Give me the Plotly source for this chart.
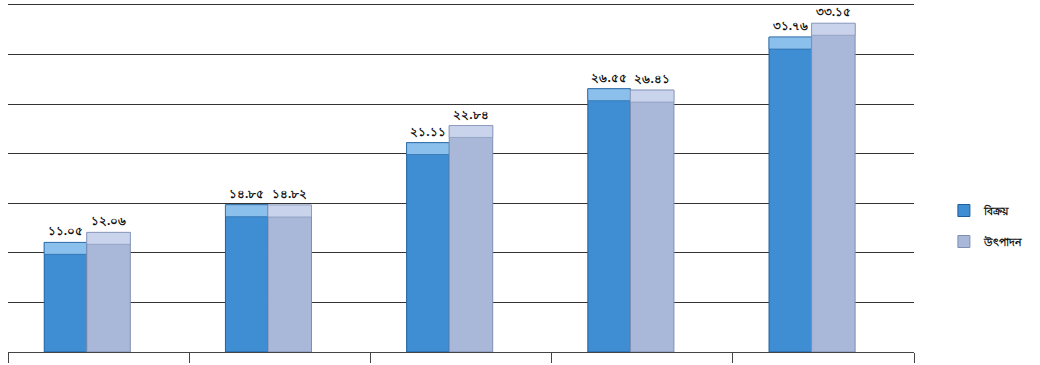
import plotly.graph_objects as go

# Five periods, two series (values shown on the bars in Bengali numerals)
categories = ["c1", "c2", "c3", "c4", "c5"]
series_names = ["বিক্রয়", "উৎপাদন"]
sales = [11.05, 14.85, 21.11, 26.55, 31.76]
production = [12.06, 14.82, 22.84, 26.41, 33.15]

BN_DIGITS = str.maketrans("0123456789", "০১২৩৪৫৬৭৮৯")


def bn(v):
    return f"{v:.2f}".translate(BN_DIGITS)


CAP = 1.2  # height (data units) of the lighter top face of each column

styles = [
    dict(front="#3f8dd2", cap="#8cc0ec", edge="#1f5f9e", offset=-0.30, width=0.235),
    dict(front="#a9b8d9", cap="#c9d4ec", edge="#7f8fb3", offset=-0.065, width=0.24),
]

fig = go.Figure()
for name, vals, st in zip(series_names, [sales, production], styles):
    fig.add_trace(go.Bar(
        x=categories, y=vals, name=name,
        offset=st["offset"], width=st["width"],
        marker=dict(color=st["front"], line=dict(color=st["edge"], width=1)),
        legendgroup=name,
        hoverinfo="skip",
    ))
    fig.add_trace(go.Bar(
        x=categories, y=[CAP] * len(vals), base=[v - CAP for v in vals],
        offset=st["offset"], width=st["width"],
        marker=dict(color=st["cap"], line=dict(color=st["edge"], width=0.6)),
        text=[f"<b>{bn(v)}</b>" for v in vals], textposition="outside",
        textfont=dict(family="Noto Sans, DejaVu Sans, sans-serif", size=12, color="#111111"),
        cliponaxis=False,
        showlegend=False, legendgroup=name, hoverinfo="skip",
    ))

fig.update_layout(
    barmode="overlay",
    width=1040, height=365,
    margin=dict(l=8, r=126, t=2, b=13),
    paper_bgcolor="white", plot_bgcolor="white",
    showlegend=True,
    legend=dict(
        x=1.033, y=0.36, xanchor="left", yanchor="middle",
        font=dict(family="Noto Sans, DejaVu Sans, sans-serif", size=11, color="#111111", weight="bold"),
        tracegroupgap=12, traceorder="grouped",
        bgcolor="rgba(0,0,0,0)",
    ),
    xaxis=dict(
        type="category", showgrid=False, showticklabels=False,
        ticks="outside", tickson="boundaries", ticklen=10, tickcolor="#444444",
        showline=True, linecolor="#444444", linewidth=1,
    ),
    yaxis=dict(
        range=[0, 35.3], tickvals=[5, 10, 15, 20, 25, 30, 35], showticklabels=False,
        showgrid=True, gridcolor="#333333", gridwidth=1,
        zeroline=False, showline=False, ticks="",
    ),
)

fig.write_html("out.html")
